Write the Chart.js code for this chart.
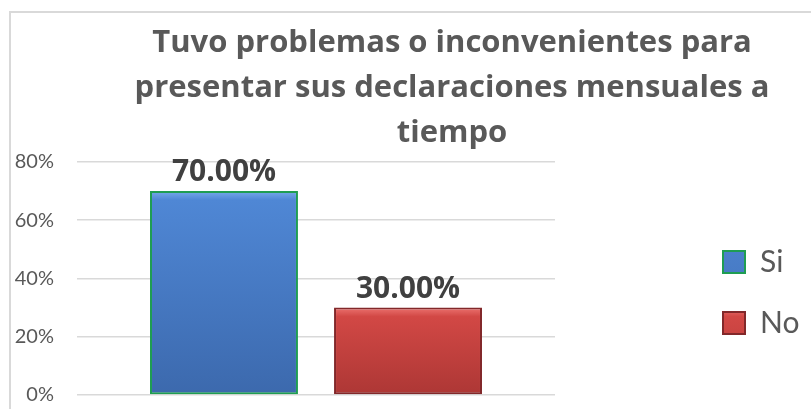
<!DOCTYPE html>
<html>
<head>
<meta charset="utf-8">
<script src="https://cdn.jsdelivr.net/npm/chart.js@4/dist/chart.umd.min.js"></script>
<style>
  html, body { margin: 0; padding: 0; background: #fff; overflow: hidden; }
  #frame { position: absolute; left: 9px; top: 11px; width: 1000px; height: 600px;
           border-left: 2px solid #d9d9d9; border-top: 2px solid #d9d9d9; }
  #wrap { position: absolute; left: 0; top: 0; width: 811px; height: 409px; }
</style>
</head>
<body>
<div id="frame"></div>
<div id="wrap"><canvas id="chart"></canvas></div>
<script>
var titleLines = ['Tuvo problemas o inconvenientes para', 'presentar sus declaraciones mensuales a', 'tiempo'];
var categories = [''];
var seriesNames = ['Si', 'No'];
var siValues = [70];
var noValues = [30];
var yTicks = [0, 20, 40, 60, 80];

// vertical gradient per bar (light bevel on top), solid colour for the legend box
function barFill(top, mid, bottom) {
    return function(c) {
        if (c.type !== 'data' || !c.chart.chartArea) return mid;
        var y = c.chart.scales.y;
        var y0 = y.getPixelForValue(c.raw), y1 = y.getPixelForValue(0);
        var g = c.chart.ctx.createLinearGradient(0, y0, 0, y1);
        g.addColorStop(0, top);
        g.addColorStop(Math.min(0.5, 9 / (y1 - y0)), mid);
        g.addColorStop(1, bottom);
        return g;
    };
}

var valueLabels = {
    id: 'valueLabels',
    afterDatasetsDraw: function(chart) {
        var ctx = chart.ctx;
        ctx.save();
        ctx.font = 'bold 30px "Open Sans"';
        ctx.fillStyle = '#404040';
        ctx.textAlign = 'center';
        ctx.textBaseline = 'alphabetic';
        chart.data.datasets.forEach(function(ds, i) {
            chart.getDatasetMeta(i).data.forEach(function(bar, j) {
                ctx.fillText(ds.data[j].toFixed(2) + '%', bar.x, bar.y - 10);
            });
        });
        ctx.restore();
    }
};

// title is centred over the whole (cropped) frame; legend placed right of the plot
var nudge = {
    id: 'nudge',
    afterLayout: function(chart) {
        chart.titleBlock.right = 894;
        var l = chart.legend, ca = chart.chartArea;
        l.left = 692;
        l.right = 811;
        l.top = ca.top + 14;
        l.bottom = ca.bottom + 14;
    }
};

var ctx = document.getElementById('chart').getContext('2d');
var myChart = new Chart(ctx, {
    type: 'bar',
    data: {
        labels: categories,
        datasets: [
            {
                label: seriesNames[0],
                data: siValues,
                backgroundColor: barFill('#78aaea', '#4f87d5', '#3c69ad'),
                borderColor: '#1f9d52',
                borderWidth: 2,
                borderSkipped: false
            },
            {
                label: seriesNames[1],
                data: noValues,
                backgroundColor: barFill('#ec7370', '#d24845', '#ad3735'),
                borderColor: '#82282a',
                borderWidth: 2,
                borderSkipped: false
            }
        ]
    },
    options: {
        responsive: true,
        maintainAspectRatio: false,
        animation: false,
        categoryPercentage: 0.77,
        barPercentage: 0.804,
        layout: { padding: { left: 10, right: 0, top: 0, bottom: 14 } },
        plugins: {
            title: {
                display: true,
                text: titleLines,
                color: '#595959',
                font: { family: 'Open Sans', size: 31, weight: 'bold', lineHeight: 1.45 },
                padding: { top: 21, bottom: 6 }
            },
            legend: {
                position: 'chartArea',
                labels: {
                    color: '#595959',
                    font: { family: 'Lato', size: 30 },
                    boxWidth: 22,
                    boxHeight: 22,
                    padding: 31
                }
            },
            tooltip: { enabled: false }
        },
        scales: {
            x: { display: false },
            y: {
                min: yTicks[0],
                max: yTicks[yTicks.length - 1],
                afterFit: function(s) {
                    s.width = 67;
                    s.paddingTop = 0;
                    s.paddingBottom = 0;
                },
                border: { display: false },
                grid: { color: '#d9d9d9', lineWidth: 1.5, drawTicks: false },
                ticks: {
                    stepSize: yTicks[1] - yTicks[0],
                    padding: 23,
                    color: '#595959',
                    font: { family: 'Lato', size: 20 },
                    callback: function(v) { return v + '%'; }
                }
            },
            pad: {
                type: 'linear',
                position: 'right',
                display: false,
                afterFit: function(s) { s.width = 256; }
            }
        }
    },
    plugins: [valueLabels, nudge]
});
</script>
</body>
</html>
